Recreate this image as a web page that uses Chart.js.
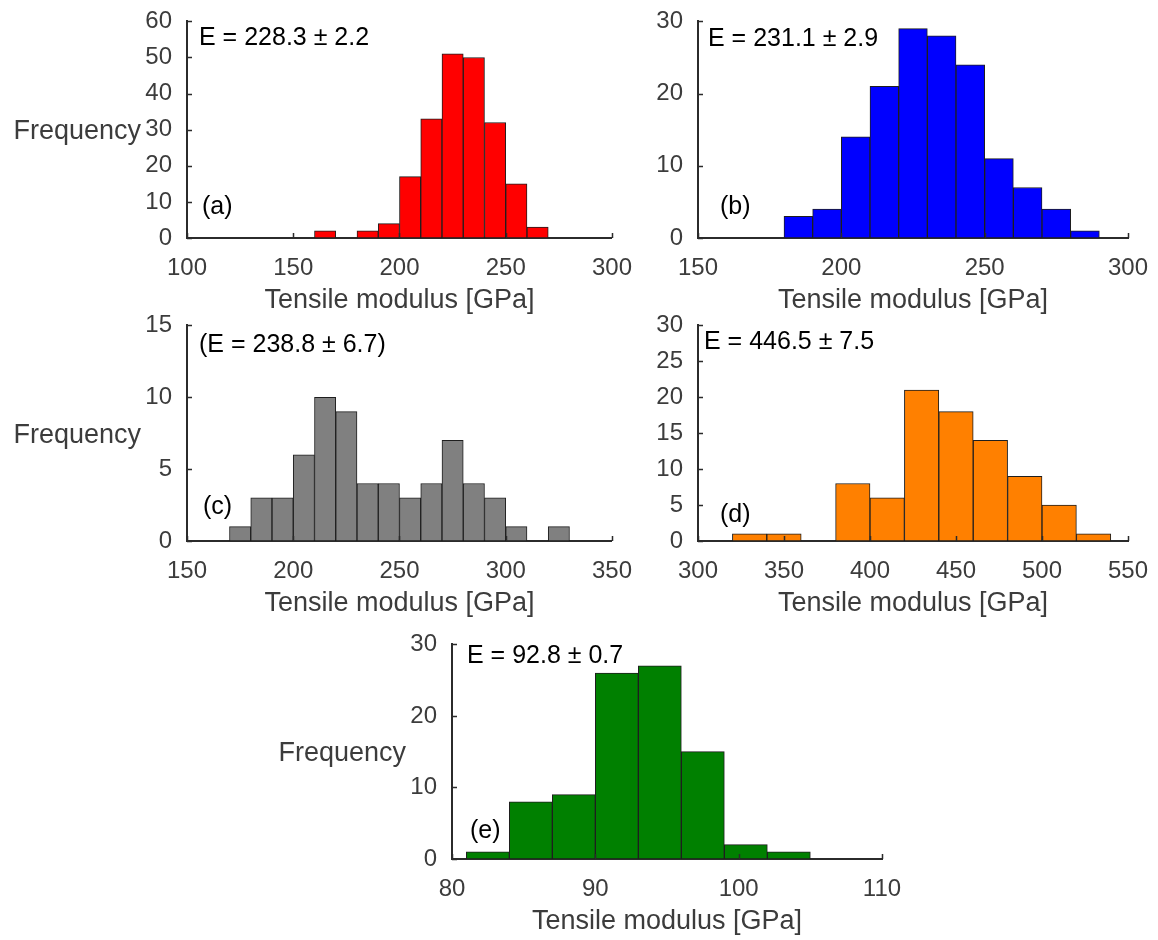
<!DOCTYPE html>
<html>
<head>
<meta charset="utf-8">
<title>Tensile modulus histograms</title>
<script src="https://cdn.jsdelivr.net/npm/chart.js@4.4.0/dist/chart.umd.min.js"></script>
<style>
  html, body { margin: 0; padding: 0; background: #fff; }
  #page { position: relative; width: 1158px; height: 940px; overflow: hidden; }
  #page canvas { position: absolute; }
</style>
</head>
<body>
<div id="page">
  <canvas id="chart-a" width="640" height="317" style="left:0;top:0"></canvas>
  <canvas id="chart-b" width="518" height="317" style="left:640px;top:0"></canvas>
  <canvas id="chart-c" width="640" height="316" style="left:0;top:304px"></canvas>
  <canvas id="chart-d" width="518" height="316" style="left:640px;top:304px"></canvas>
  <canvas id="chart-e" width="652" height="315" style="left:260px;top:623px"></canvas>
</div>
<script>
/* Histograms: bin left edges, bin width and counts */

const binsA = [160, 170, 180, 190, 200, 210, 220, 230, 240, 250, 260];
const countsA = [2, 0, 2, 4, 17, 33, 51, 50, 32, 15, 3];
const widthA = 10;
const xTicksA = [100, 150, 200, 250, 300];
const yTicksA = [0, 10, 20, 30, 40, 50, 60];

const binsB = [180, 190, 200, 210, 220, 230, 240, 250, 260, 270, 280];
const countsB = [3, 4, 14, 21, 29, 28, 24, 11, 7, 4, 1];
const widthB = 10;
const xTicksB = [150, 200, 250, 300];
const yTicksB = [0, 10, 20, 30];

const binsC = [170, 180, 190, 200, 210, 220, 230, 240, 250, 260, 270, 280, 290, 300, 310, 320];
const countsC = [1, 3, 3, 6, 10, 9, 4, 4, 3, 4, 7, 4, 3, 1, 0, 1];
const widthC = 10;
const xTicksC = [150, 200, 250, 300, 350];
const yTicksC = [0, 5, 10, 15];

const binsD = [320, 340, 360, 380, 400, 420, 440, 460, 480, 500, 520];
const countsD = [1, 1, 0, 8, 6, 21, 18, 14, 9, 5, 1];
const widthD = 20;
const xTicksD = [300, 350, 400, 450, 500, 550];
const yTicksD = [0, 5, 10, 15, 20, 25, 30];

const binsE = [81, 84, 87, 90, 93, 96, 99, 102];
const countsE = [1, 8, 9, 26, 27, 15, 2, 1];
const widthE = 3;
const xTicksE = [80, 90, 100, 110];
const yTicksE = [0, 10, 20, 30];

const X_TITLE = "Tensile modulus [GPa]";
const Y_TITLE = "Frequency";
const TEXT_GRAY = "#3c3c3c";
const AXIS_COLOR = "#2b2b2b";
const FONT = "'Liberation Sans', Arial, sans-serif";

Chart.defaults.font.family = FONT;
Chart.defaults.color = TEXT_GRAY;

// inward tick marks, stat text, panel tag and horizontal y title
const panelDecor = {
  id: "panelDecor",
  afterDraw(chart, args, opts) {
    const { ctx, chartArea: area, scales } = chart;
    ctx.save();
    ctx.strokeStyle = AXIS_COLOR;
    ctx.lineWidth = 1.5;
    ctx.beginPath();
    scales.x.ticks.forEach((t) => {
      const px = Math.round(scales.x.getPixelForValue(t.value)) + 0.5;
      ctx.moveTo(px, area.bottom);
      ctx.lineTo(px, area.bottom - 5);
    });
    scales.y.ticks.forEach((t) => {
      const py = Math.round(scales.y.getPixelForValue(t.value)) + 0.5;
      ctx.moveTo(area.left, py);
      ctx.lineTo(area.left + 5, py);
    });
    ctx.stroke();

    ctx.fillStyle = "#000";
    ctx.font = `25px ${FONT}`;
    ctx.textAlign = "left";
    ctx.textBaseline = "middle";
    ctx.fillText(opts.stat, area.left + opts.statAt[0], area.top + opts.statAt[1]);
    ctx.fillText(opts.tag, area.left + opts.tagAt[0], area.bottom - opts.tagAt[1]);

    if (opts.yTitle) {
      ctx.fillStyle = TEXT_GRAY;
      ctx.font = `27px ${FONT}`;
      ctx.textAlign = "right";
      ctx.fillText(Y_TITLE, area.left - 46, (area.top + area.bottom) / 2 + 2);
    }
    ctx.restore();
  },
};

function makeHistogram(id, p) {
  const points = p.bins.map((b, i) => ({ x: b + p.width / 2, y: p.counts[i] }));
  return new Chart(document.getElementById(id), {
    type: "bar",
    data: {
      datasets: [{
        data: points,
        backgroundColor: p.color,
        borderColor: "#1e1e1e",
        borderWidth: 1,
        borderSkipped: false,
        barPercentage: 1,
        categoryPercentage: 1,
      }],
    },
    options: {
      responsive: false,
      animation: false,
      layout: { padding: { top: 16, right: p.padRight, bottom: 0, left: 0 } },
      scales: {
        x: {
          type: "linear",
          offset: false,
          min: p.xTicks[0],
          max: p.xTicks[p.xTicks.length - 1],
          z: 1,
          afterBuildTicks: (s) => { s.ticks = p.xTicks.map((v) => ({ value: v })); },
          afterFit: (s) => { s.height = 79; },
          grid: { display: false },
          border: { display: true, color: AXIS_COLOR, width: 2 },
          ticks: { autoSkip: false, maxRotation: 0, padding: 8, color: TEXT_GRAY, font: { size: 24 } },
          title: {
            display: true,
            text: X_TITLE,
            color: TEXT_GRAY,
            font: { size: 27 },
            padding: { top: 0, bottom: 0 },
          },
        },
        y: {
          min: p.yTicks[0],
          max: p.yTicks[p.yTicks.length - 1],
          z: 1,
          afterBuildTicks: (s) => { s.ticks = p.yTicks.map((v) => ({ value: v })); },
          afterFit: (s) => { s.width = p.yWidth; },
          grid: { display: false },
          border: { display: true, color: AXIS_COLOR, width: 2 },
          ticks: { padding: 7, color: TEXT_GRAY, font: { size: 24 } },
        },
      },
      plugins: {
        legend: { display: false },
        tooltip: { enabled: false },
        panelDecor: {
          stat: p.stat,
          statAt: p.statAt,
          tag: p.tag,
          tagAt: p.tagAt,
          yTitle: p.yTitle,
        },
      },
    },
    plugins: [panelDecor],
  });
}

makeHistogram("chart-a", {
  bins: binsA, counts: countsA, width: widthA, xTicks: xTicksA, yTicks: yTicksA,
  color: "#ff0000", yWidth: 187, padRight: 23, yTitle: true,
  stat: "E = 228.3 ± 2.2", statAt: [12, 17], tag: "(a)", tagAt: [15, 31],
});

makeHistogram("chart-b", {
  bins: binsB, counts: countsB, width: widthB, xTicks: xTicksB, yTicks: yTicksB,
  color: "#0000ff", yWidth: 58, padRight: 30, yTitle: false,
  stat: "E = 231.1 ± 2.9", statAt: [10, 18], tag: "(b)", tagAt: [22, 31],
});

makeHistogram("chart-c", {
  bins: binsC, counts: countsC, width: widthC, xTicks: xTicksC, yTicks: yTicksC,
  color: "#808080", yWidth: 187, padRight: 23, yTitle: true,
  stat: "(E = 238.8 ± 6.7)", statAt: [12, 20], tag: "(c)", tagAt: [16, 34],
});

makeHistogram("chart-d", {
  bins: binsD, counts: countsD, width: widthD, xTicks: xTicksD, yTicks: yTicksD,
  color: "#ff8000", yWidth: 58, padRight: 30, yTitle: false,
  stat: "E = 446.5 ± 7.5", statAt: [6, 17], tag: "(d)", tagAt: [22, 26],
});

makeHistogram("chart-e", {
  bins: binsE, counts: countsE, width: widthE, xTicks: xTicksE, yTicks: yTicksE,
  color: "#008000", yWidth: 192, padRight: 30, yTitle: true,
  stat: "E = 92.8 ± 0.7", statAt: [15, 12], tag: "(e)", tagAt: [18, 28],
});
</script>
</body>
</html>
